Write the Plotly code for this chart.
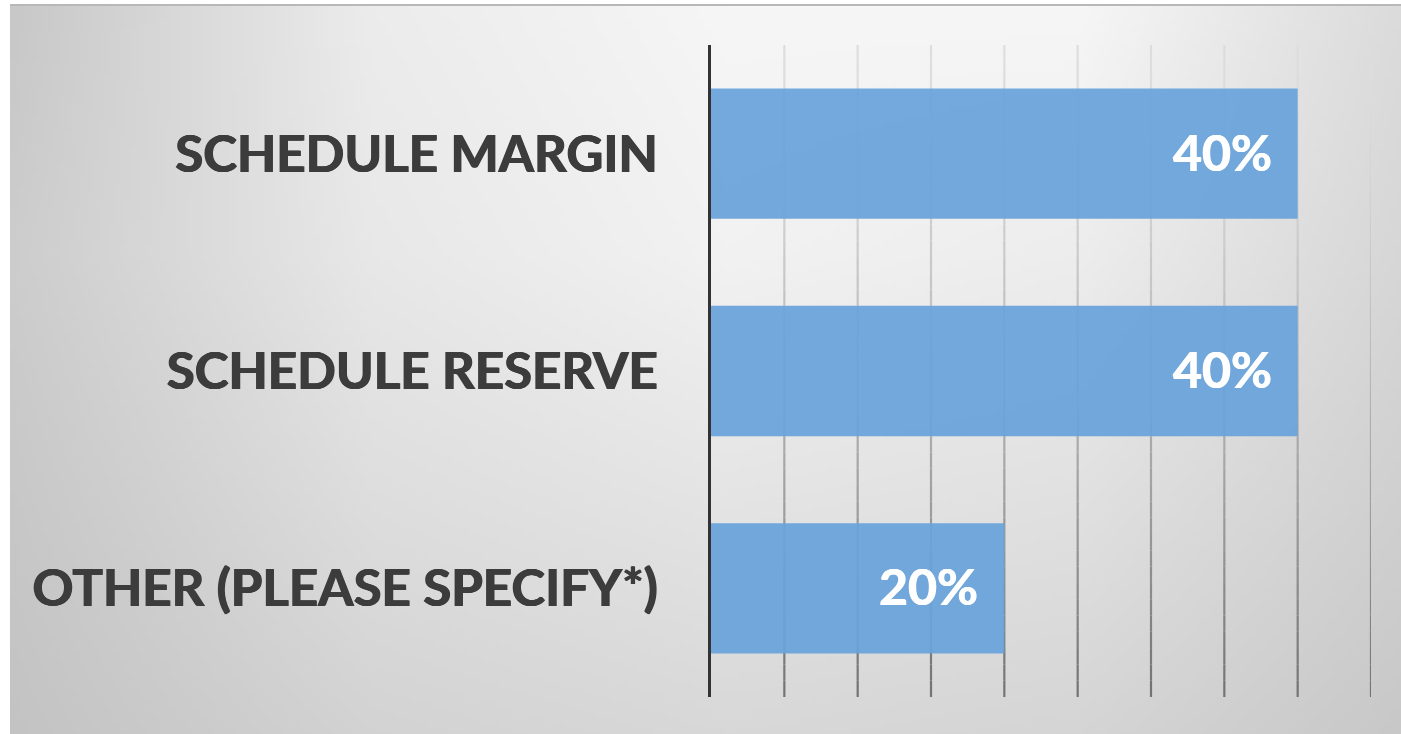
import base64
import struct
import zlib

import numpy as np
import plotly.graph_objects as go

# ---------------- data ----------------
categories = ["SCHEDULE MARGIN", "SCHEDULE RESERVE", "OTHER (PLEASE SPECIFY*)"]
values = [40, 40, 20]
value_labels = ["40%", "40%", "20%"]
x_range = [0, 45]
grid_ticks = [5, 10, 15, 20, 25, 30, 35, 40, 45]

W, H = 1401, 734
FONT = "Lato"
BAR_COLOR = "rgba(104,162,218,0.93)"
TEXT_COLOR = "#3c3c3c"


# ---------------- background gradient image ----------------
def make_png(arr):
    h, w, _ = arr.shape
    raw = b"".join(b"\x00" + arr[i].tobytes() for i in range(h))

    def chunk(tag, data):
        return (struct.pack(">I", len(data)) + tag + data
                + struct.pack(">I", zlib.crc32(tag + data) & 0xFFFFFFFF))

    png = b"\x89PNG\r\n\x1a\n"
    png += chunk(b"IHDR", struct.pack(">IIBBBBB", w, h, 8, 2, 0, 0, 0))
    png += chunk(b"IDAT", zlib.compress(raw, 9))
    png += chunk(b"IEND", b"")
    return "data:image/png;base64," + base64.b64encode(png).decode()


gx = np.array([0.0, 0.25, 0.5, 0.75, 1.0])
gy = np.array([0.0, 0.33, 0.65, 1.0])
gvals = np.array([
    [200, 236, 246, 246, 216],
    [205, 232, 242, 237, 212],
    [200, 222, 229, 225, 206],
    [195, 210, 215, 212, 198],
], dtype=float)
iw, ih = 280, 146
xs = np.linspace(0, 1, iw)
ys = np.linspace(0, 1, ih)
rows = np.array([np.interp(xs, gx, r) for r in gvals])           # (4, iw)
img = np.array([[np.interp(y, gy, rows[:, j]) for j in range(iw)] for y in ys])
img = np.clip(img, 0, 255).astype(np.uint8)
img_rgb = np.stack([img, img, img], axis=-1)
bg_uri = make_png(img_rgb)

# ---------------- figure ----------------
fig = go.Figure()
fig.add_trace(go.Bar(
    y=categories,
    x=values,
    orientation="h",
    width=0.6,
    marker=dict(color=BAR_COLOR, line=dict(width=0)),
    hoverinfo="skip",
))

# value labels inside bar ends
for c, v, t in zip(categories, values, value_labels):
    fig.add_annotation(
        x=v, y=c, xref="x", yref="y", text=f"<b>{t}</b>",
        showarrow=False, xanchor="right", yanchor="middle", xshift=-24, yshift=2,
        font=dict(family=FONT, size=50, color="white",
                  shadow="0.6px 0 0 white, -0.6px 0 0 white"),
    )

# gradient gridlines (light at top, darker toward bottom)
nseg = 40
shapes = []
for gv in grid_ticks:
    for k in range(nseg):
        y0 = k / nseg
        y1 = (k + 1) / nseg
        t = 1 - (y0 + y1) / 2  # 0 at top, 1 at bottom
        c = int(222 - 108 * t ** 1.5)
        shapes.append(dict(
            type="line", xref="x", yref="y domain", x0=gv, x1=gv, y0=y0, y1=y1,
            line=dict(color=f"rgb({c},{c},{c})", width=2.2), layer="below",
        ))

# white outer strips (left and top) and thin top frame line
shapes.append(dict(type="rect", xref="paper", yref="paper",
                   x0=-0.02, x1=10 / W, y0=-0.02, y1=1.02,
                   line=dict(width=0), fillcolor="white", layer="below"))
shapes.append(dict(type="rect", xref="paper", yref="paper",
                   x0=-0.02, x1=1.02, y0=1 - 4 / H, y1=1.02,
                   line=dict(width=0), fillcolor="white", layer="below"))
shapes.append(dict(type="rect", xref="paper", yref="paper",
                   x0=10 / W, x1=1.02, y0=1 - 6 / H, y1=1 - 4 / H,
                   line=dict(width=0), fillcolor="#b8b8b8", layer="below"))

fig.update_layout(
    width=W, height=H, autosize=False,
    margin=dict(l=0, r=0, t=0, b=0),
    paper_bgcolor="#cdcdcd",
    plot_bgcolor="rgba(0,0,0,0)",
    showlegend=False,
    shapes=shapes,
    images=[dict(source=bg_uri, xref="paper", yref="paper",
                 x=10 / W, y=1 - 6 / H, sizex=1.03 - 10 / W, sizey=1.03 - 6 / H,
                 xanchor="left", yanchor="top", sizing="stretch", layer="below")],
    xaxis=dict(
        domain=[711 / W, 1371 / W], range=x_range, showgrid=False,
        zeroline=False, showticklabels=False, ticks="", fixedrange=True,
    ),
    yaxis=dict(
        domain=[1 - 697 / H, 1 - 45 / H], autorange="reversed",
        categoryorder="array", categoryarray=categories,
        showgrid=False, zeroline=False, showline=True, linecolor="#333333",
        linewidth=3, ticks="", ticklabelstandoff=40, automargin=False,
        tickfont=dict(family=FONT, size=51, color=TEXT_COLOR, weight="bold",
                      shadow=f"0.7px 0 0 {TEXT_COLOR}, -0.7px 0 0 {TEXT_COLOR}"),
        fixedrange=True,
    ),
    bargap=0.4,
)

fig.write_html("out.html")
